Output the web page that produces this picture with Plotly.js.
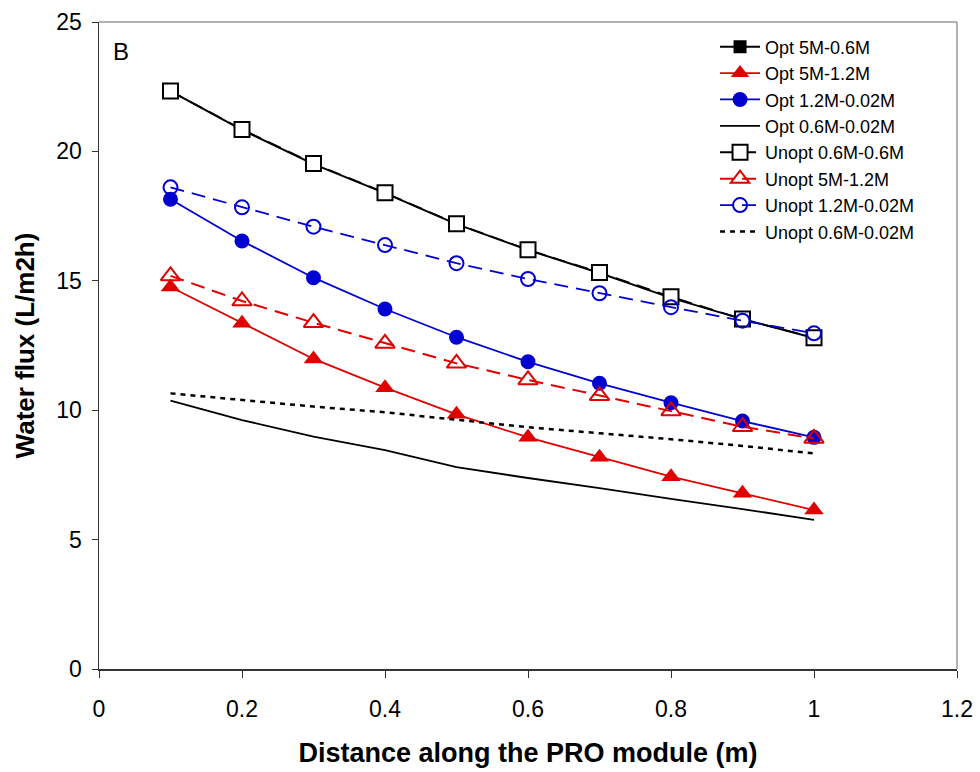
<!DOCTYPE html>
<html>
<head>
<meta charset="utf-8">
<script src="https://cdn.plot.ly/plotly-3.0.1.min.js"></script>
<style>html,body{margin:0;padding:0;background:#fff;}#chart{width:980px;height:772px;}</style>
</head>
<body>
<div id="chart"></div>
<script>
const distance = [0.1, 0.2, 0.3, 0.4, 0.5, 0.6, 0.7, 0.8, 0.9, 1.0];

const opt5M06M   = [22.33, 20.83, 19.51, 18.39, 17.19, 16.19, 15.30, 14.34, 13.52, 12.79];
const opt5M12M   = [14.76, 13.36, 11.98, 10.87, 9.84, 8.95, 8.18, 7.43, 6.79, 6.14];
const opt12M002M = [18.15, 16.54, 15.12, 13.91, 12.82, 11.87, 11.04, 10.29, 9.58, 8.95];
const opt06M002M = [10.37, 9.62, 8.98, 8.46, 7.80, 7.38, 6.99, 6.57, 6.18, 5.76];

const unopt06M06M   = [22.33, 20.85, 19.53, 18.40, 17.20, 16.20, 15.32, 14.38, 13.52, 12.80];
const unopt5M12M    = [15.19, 14.22, 13.38, 12.58, 11.81, 11.17, 10.56, 9.97, 9.36, 8.91];
const unopt12M002M  = [18.61, 17.84, 17.09, 16.38, 15.68, 15.07, 14.52, 13.98, 13.46, 12.97];
const unopt06M002M  = [10.65, 10.40, 10.14, 9.92, 9.62, 9.34, 9.11, 8.88, 8.62, 8.33];

const seriesNames = ["Opt 5M-0.6M", "Opt 5M-1.2M", "Opt 1.2M-0.02M", "Opt 0.6M-0.02M",
  "Unopt 0.6M-0.6M", "Unopt 5M-1.2M", "Unopt 1.2M-0.02M", "Unopt 0.6M-0.02M"];

const xTickVals = [0, 0.2, 0.4, 0.6, 0.8, 1, 1.2];
const xTickText = ["0", "0.2", "0.4", "0.6", "0.8", "1", "1.2"];
const yTickVals = [0, 5, 10, 15, 20, 25];

const RED = "#e00000", BLUE = "#0000d0", BLACK = "#000000";

const traces = [
  {x: distance, y: opt5M06M, name: seriesNames[0], mode: "lines+markers",
   line: {color: BLACK, width: 2}, marker: {symbol: "square", size: 13, color: BLACK}},
  {x: distance, y: opt5M12M, name: seriesNames[1], mode: "lines+markers",
   line: {color: RED, width: 1.8}, marker: {symbol: "triangle-up", size: 17, color: RED}},
  {x: distance, y: opt12M002M, name: seriesNames[2], mode: "lines+markers",
   line: {color: BLUE, width: 1.8}, marker: {symbol: "circle", size: 15, color: BLUE}},
  {x: distance, y: opt06M002M, name: seriesNames[3], mode: "lines",
   line: {color: BLACK, width: 1.8}},
  {x: distance, y: unopt06M06M, name: seriesNames[4], mode: "lines+markers",
   line: {color: BLACK, width: 1.8, dash: "14px,8px"},
   marker: {symbol: "square", size: 15, color: "#ffffff", line: {color: BLACK, width: 2}}},
  {x: distance, y: unopt5M12M, name: seriesNames[5], mode: "lines+markers",
   line: {color: RED, width: 2, dash: "14px,8px"},
   marker: {symbol: "triangle-up-open", size: 17, color: RED, line: {color: RED, width: 2}}},
  {x: distance, y: unopt12M002M, name: seriesNames[6], mode: "lines+markers",
   line: {color: BLUE, width: 1.8, dash: "14px,8px"},
   marker: {symbol: "circle-open", size: 14, color: BLUE, line: {color: BLUE, width: 2}}},
  {x: distance, y: unopt06M002M, name: seriesNames[7], mode: "lines",
   line: {color: BLACK, width: 2.5, dash: "5px,5px"}}
];

const layout = {
  width: 980, height: 772,
  margin: {l: 99, r: 23, t: 22, b: 103},
  paper_bgcolor: "#ffffff", plot_bgcolor: "#ffffff",
  font: {family: "Liberation Sans, Arial, sans-serif", color: "#000", size: 23},
  showlegend: true,
  legend: {x: 0.718, y: 0.99, xanchor: "left", yanchor: "top",
    font: {size: 18, family: "Liberation Sans, Arial, sans-serif"},
    bgcolor: "rgba(255,255,255,0)", borderwidth: 0, tracegroupgap: 0,
    itemwidth: 40},
  xaxis: {range: [0, 1.2], tickvals: xTickVals, ticktext: xTickText,
    showline: true, linecolor: "#333", linewidth: 1.5, mirror: false,
    ticks: "outside", ticklen: 7, tickcolor: "#333", showgrid: false, zeroline: false,
    tickfont: {size: 23}, ticklabelstandoff: 12,
    title: {text: "<b>Distance along the PRO module (m)</b>", font: {size: 27}, standoff: 22}},
  yaxis: {range: [0, 25], tickvals: yTickVals,
    showline: true, linecolor: "#333", linewidth: 1.5, mirror: false,
    ticks: "outside", ticklen: 6, tickcolor: "#333", showgrid: false, zeroline: false,
    tickfont: {size: 23}, ticklabelstandoff: 5,
    title: {text: "<b>Water flux (L/m2h)</b>", font: {size: 26}, standoff: 14}},
  shapes: [
    {type: "line", xref: "paper", yref: "paper", x0: 0, x1: 1, y0: 1, y1: 1,
     line: {color: "#999", width: 1.5}},
    {type: "line", xref: "paper", yref: "paper", x0: 1, x1: 1, y0: 0, y1: 1,
     line: {color: "#999", width: 1.5}}
  ],
  annotations: [{xref: "paper", yref: "paper", x: 0.014, y: 0.955, xanchor: "left", yanchor: "middle",
    text: "B", showarrow: false, font: {size: 24}}]
};

Plotly.newPlot("chart", traces, layout, {displayModeBar: false, staticPlot: true});
</script>
</body>
</html>
